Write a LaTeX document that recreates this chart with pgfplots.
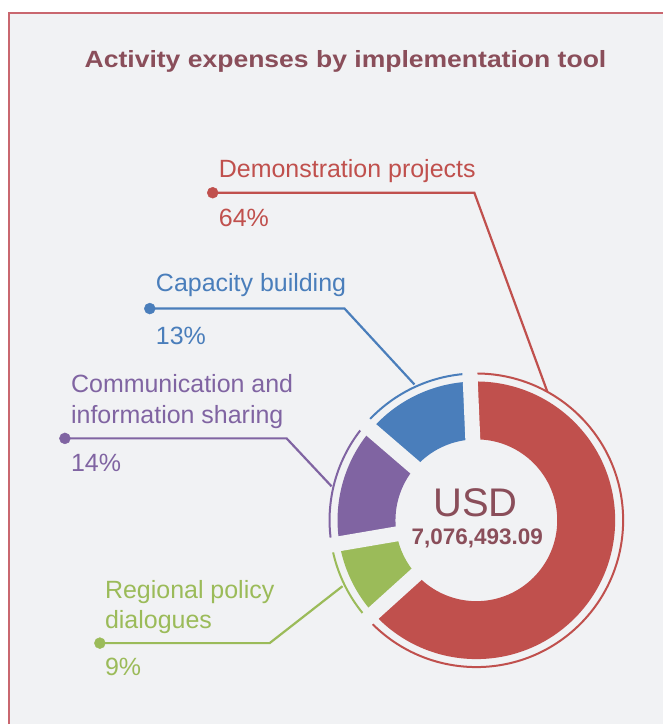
\documentclass[border=0pt]{standalone}
\usepackage{fontspec}
\setmainfont{Liberation Sans}
\usepackage{pgfplots}
\usepackage{pgfplotstable}
\pgfplotsset{compat=1.18}
\definecolor{bg}{HTML}{F1F2F4}
\definecolor{frame}{HTML}{C9676F}
\definecolor{cred}{HTML}{C0504D}
\definecolor{cblue}{HTML}{4A7EBB}
\definecolor{cpurple}{HTML}{8064A2}
\definecolor{cgreen}{HTML}{9BBB59}
\definecolor{ctitle}{HTML}{8A4E5A}

\pgfplotstableread{
tool share
Capacity 13
Communication 14
Regional 9
Demonstration 64
}\shares

\newcommand\sector[3]{%
  \fill[#1] (axis cs:{477+139*cos(#2)},{204+139*sin(#2)}) arc[start angle=#2, end angle=#3, radius=139pt]
     -- (axis cs:{477+81*cos(#3)},{204+81*sin(#3)}) arc[start angle=#3, end angle=#2, radius=81pt] -- cycle;
  \draw[#1, line width=2pt] (axis cs:{477+147*cos(#2)},{204+147*sin(#2)}) arc[start angle=#2, end angle=#3, radius=147pt];
}
\newcommand\gapray[1]{%
  \draw[bg, line width=15pt] (axis cs:{477+70*cos(#1)},{204+70*sin(#1)}) -- (axis cs:{477+158*cos(#1)},{204+158*sin(#1)});
}

\begin{document}
\begin{tikzpicture}
\pgfplotstablegetelem{0}{share}\of\shares \let\sA\pgfplotsretval
\pgfplotstablegetelem{1}{share}\of\shares \let\sB\pgfplotsretval
\pgfplotstablegetelem{2}{share}\of\shares \let\sC\pgfplotsretval
\pgfplotstablegetelem{3}{share}\of\shares \let\sD\pgfplotsretval
\pgfmathsetmacro\aO{92.5}
\pgfmathsetmacro\aA{\aO+3.6*\sA}
\pgfmathsetmacro\aB{\aA+3.6*\sB}
\pgfmathsetmacro\aC{\aB+3.6*\sC}
\pgfmathsetmacro\aD{\aC+3.6*\sD}
\begin{axis}[scale only axis, width=664pt, height=725pt,
  xmin=0, xmax=664, ymin=0, ymax=725, hide axis, clip=false]
% background and frame
\fill[white] (axis cs:0,0) rectangle (axis cs:664,725);
\fill[bg] (axis cs:9,0) rectangle (axis cs:664,712);
\draw[frame, line width=2pt] (axis cs:9,0) -- (axis cs:9,712) -- (axis cs:664,712);
% title
\node[anchor=base, text=ctitle, font=\fontsize{23.5}{27}\selectfont\bfseries] at (axis cs:346,657) {\scalebox{1.13}[1]{Activity expenses by implementation tool}};
% donut
\sector{cblue}{\aO}{\aA}
\sector{cpurple}{\aA}{\aB}
\sector{cgreen}{\aB}{\aC}
\sector{cred}{\aC}{\aD}
\gapray{\aO}
\gapray{\aA}
\gapray{\aB}
\gapray{\aC}
% centre text
\node[anchor=base, text=ctitle, font=\fontsize{40}{44}\selectfont] at (axis cs:476,208) {USD};
\node[anchor=base, text=ctitle, font=\fontsize{22.5}{25}\selectfont\bfseries] at (axis cs:478,180) {7,076,493.09};
% leader lines
\addplot[cred, line width=2.2pt, no marks] coordinates {(213,532) (475,532) (548,333)};
\addplot[cred, only marks, mark=*, mark size=5.5pt] coordinates {(213,532)};
\addplot[cblue, line width=2.2pt, no marks] coordinates {(150,416) (345,416) (415,340)};
\addplot[cblue, only marks, mark=*, mark size=5.5pt] coordinates {(150,416)};
\addplot[cpurple, line width=2.2pt, no marks] coordinates {(65,286) (287,286) (332,238)};
\addplot[cpurple, only marks, mark=*, mark size=5.5pt] coordinates {(65,286)};
\addplot[cgreen, line width=2.2pt, no marks] coordinates {(100,81) (270,81) (343,138)};
\addplot[cgreen, only marks, mark=*, mark size=5.5pt] coordinates {(100,81)};
% labels
\tikzset{lab/.style={anchor=base west, inner sep=0pt, font=\fontsize{25}{29}\selectfont}}
\node[lab, text=cred] at (axis cs:219,547) {Demonstration projects};
\node[lab, text=cred] at (axis cs:219,498) {64\%};
\node[lab, text=cblue] at (axis cs:156,433) {Capacity building};
\node[lab, text=cblue] at (axis cs:156,380) {13\%};
\node[lab, text=cpurple] at (axis cs:71,332) {Communication and};
\node[lab, text=cpurple] at (axis cs:71,301) {information sharing};
\node[lab, text=cpurple] at (axis cs:71,253) {14\%};
\node[lab, text=cgreen] at (axis cs:105,126) {Regional policy};
\node[lab, text=cgreen] at (axis cs:105,96) {dialogues};
\node[lab, text=cgreen] at (axis cs:105,49) {9\%};
\end{axis}
\end{tikzpicture}
\end{document}
